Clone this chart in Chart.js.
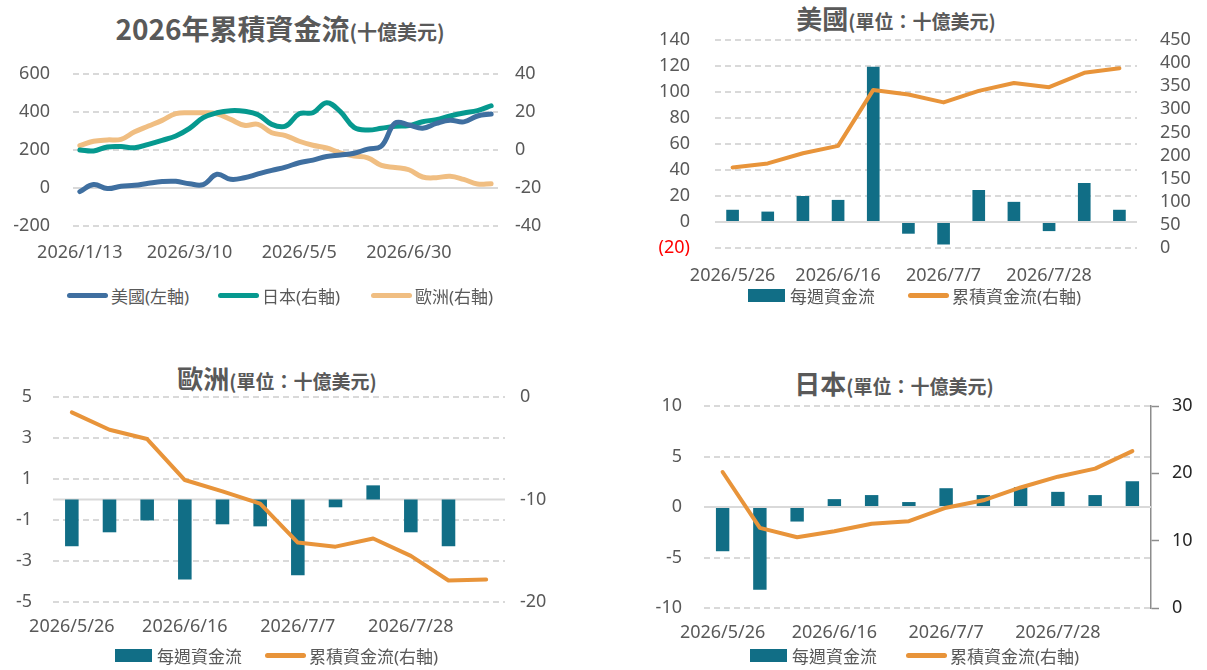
<!DOCTYPE html>
<html>
<head>
<meta charset="utf-8">
<script src="https://cdn.jsdelivr.net/npm/chart.js@4.4.1/dist/chart.umd.min.js"></script>
<style>
  body { margin: 0; background: #fff; }
  #page { position: relative; width: 1207px; height: 670px; overflow: hidden;
          font-family: "Noto Sans", "Noto Sans CJK TC", sans-serif; color: #595959; }
  .box { position: absolute; }
  .title { position: absolute; transform: translateX(-50%); white-space: nowrap;
           font-weight: bold; color: #595959; line-height: 34px; height: 34px;
           font-family: "Noto Sans CJK TC", "Noto Sans", sans-serif; }
  .title .big { font-size: 26px; }
  .title .small { font-size: 19px; }
  .lg { position: absolute; display: flex; align-items: center; font-size: 17px;
        white-space: nowrap; height: 22px; margin-top: -11px; }
  .lg .ln { width: 41px; height: 5px; border-radius: 3px; margin-right: 3px; }
  .lg .bx { width: 37px; height: 13px; margin-right: 5px; }
</style>
</head>
<body>
<div id="page">
  <div class="title" style="left:280px;top:11px;"><span class="big" style="font-size:28px">2026年累積資金流</span><span class="small" style="font-size:20px">(十億美元)</span></div>
  <div class="title" style="left:896px;top:1px;"><span class="big">美國</span><span class="small">(單位：十億美元)</span></div>
  <div class="title" style="left:277px;top:361px;"><span class="big">歐洲</span><span class="small">(單位：十億美元)</span></div>
  <div class="title" style="left:894px;top:366px;"><span class="big">日本</span><span class="small">(單位：十億美元)</span></div>

  <div class="box" style="left:0;top:60px;width:545px;height:205px;"><canvas id="allChart"></canvas></div>
  <div class="box" style="left:640px;top:25px;width:567px;height:265px;"><canvas id="usChart"></canvas></div>
  <div class="box" style="left:0;top:385px;width:560px;height:260px;"><canvas id="euChart"></canvas></div>
  <div class="box" style="left:640px;top:384px;width:567px;height:266px;"><canvas id="jpChart"></canvas></div>

  <div class="lg" style="left:67px;top:295px;"><span class="ln" style="background:#3F6FA0"></span>美國(左軸)</div>
  <div class="lg" style="left:218px;top:295px;"><span class="ln" style="background:#06998F"></span>日本(右軸)</div>
  <div class="lg" style="left:371px;top:295px;"><span class="ln" style="background:#F0BE82"></span>歐洲(右軸)</div>

  <div class="lg" style="left:748px;top:295px;"><span class="bx" style="background:#116E86"></span>每週資金流</div>
  <div class="lg" style="left:908px;top:295px;"><span class="ln" style="background:#E8943A"></span>累積資金流(右軸)</div>

  <div class="lg" style="left:115px;top:655px;"><span class="bx" style="background:#116E86"></span>每週資金流</div>
  <div class="lg" style="left:265px;top:655px;"><span class="ln" style="background:#E8943A"></span>累積資金流(右軸)</div>

  <div class="lg" style="left:750px;top:655px;"><span class="bx" style="background:#116E86"></span>每週資金流</div>
  <div class="lg" style="left:906px;top:655px;"><span class="ln" style="background:#E8943A"></span>累積資金流(右軸)</div>
</div>

<script>
// ---------- 2026 累積資金流 (weekly, 31 weeks) ----------
const allDates = ['2026/1/13','2026/1/20','2026/1/27','2026/2/3','2026/2/10','2026/2/17','2026/2/24',
  '2026/3/3','2026/3/10','2026/3/17','2026/3/24','2026/3/31','2026/4/7','2026/4/14','2026/4/21',
  '2026/4/28','2026/5/5','2026/5/12','2026/5/19','2026/5/26','2026/6/2','2026/6/9','2026/6/16',
  '2026/6/23','2026/6/30','2026/7/7','2026/7/14','2026/7/21','2026/7/28','2026/8/4','2026/8/11'];
const usCumAll = [-19, 18, -3, 9, 14, 25, 34, 35, 22, 18, 72, 46, 54, 74, 93, 110, 133, 147, 166,
  174, 183, 205, 221, 342, 332, 315, 340, 357, 348, 379, 389];
const jpCumAll = [0, -0.5, 1.6, 1.8, 1.2, 3.0, 5.1, 7.4, 11.4, 17.0, 19.6, 20.7, 20.4, 18.6, 13.5,
  12.6, 19.1, 19.6, 24.9, 20.2, 11.9, 10.5, 11.4, 12.5, 12.9, 14.9, 16.0, 17.9, 19.5, 20.7, 23.3];
const euCumAll = [2.3, 4.6, 5.3, 5.6, 9.6, 12.6, 15.6, 19.1, 19.6, 19.6, 19.1, 16.1, 13.0, 13.5, 9.1,
  7.6, 4.6, 2.5, 1.1, -1.5, -3.2, -4.1, -8.1, -9.2, -10.4, -14.2, -14.6, -13.8, -15.5, -17.9, -17.8];

// ---------- 最近 12 週 ----------
const weekDates = ['2026/5/26','2026/6/2','2026/6/9','2026/6/16','2026/6/23','2026/6/30',
  '2026/7/7','2026/7/14','2026/7/21','2026/7/28','2026/8/4','2026/8/11'];
const usWeekly = [9.4, 8, 20, 17, 119.5, -9, -17.3, 24.6, 15.5, -7, 30, 9.4];
const usCum    = [174, 183, 205, 221, 342, 332, 315, 340, 357, 348, 379, 389];
const euWeekly = [-2.28, -1.6, -1.02, -3.9, -1.21, -1.31, -3.7, -0.38, 0.69, -1.6, -2.28, 0];
const euCum    = [-1.5, -3.2, -4.1, -8.1, -9.2, -10.4, -14.2, -14.6, -13.8, -15.5, -17.9, -17.8];
const jpWeekly = [-4.38, -8.2, -1.44, 0.78, 1.18, 0.49, 1.86, 1.18, 1.96, 1.5, 1.18, 2.55];
const jpCum    = [20.2, 11.9, 10.5, 11.4, 12.5, 12.9, 14.9, 16.0, 17.9, 19.5, 20.7, 23.3];

Chart.defaults.font.family = '"Noto Sans", "Noto Sans CJK TC", sans-serif';
Chart.defaults.font.size = 18;
Chart.defaults.color = '#595959';

const GRID = '#D9D9D9';
const BAR = '#116E86';
const CUM = '#E8943A';
const NONE = 'rgba(0,0,0,0)';
const TICK_FONT = { size: 18, lineHeight: 1 };

// 0 的格線畫成實線
const zeroLine = {
  id: 'zeroLine',
  beforeDatasetsDraw(chart) {
    const px = chart.scales.y.getPixelForValue(0);
    const { left, right } = chart.chartArea;
    const c = chart.ctx;
    c.save();
    c.strokeStyle = GRID;
    c.lineWidth = 2;
    c.beginPath();
    c.moveTo(left, px);
    c.lineTo(right, px);
    c.stroke();
    c.restore();
  }
};

const gridColor = ctx => (ctx.tick && ctx.tick.value === 0) ? NONE : GRID;

function xAxis(labels, every, height, pad, offset) {
  return {
    offset: offset,
    grid: { display: false },
    border: { display: false },
    ticks: {
      autoSkip: false, maxRotation: 0, padding: pad,
      callback: (v, i) => i % every === 0 ? labels[i] : ''
    },
    afterFit: s => { s.height = height; }
  };
}

// label gap done with invisible tick marks (ticks.padding would push the plot top down)
function leftAxis(min, max, step, gap, width, extraTicks) {
  return {
    position: 'left', min: min, max: max,
    ticks: Object.assign({ stepSize: step, padding: 0, font: TICK_FONT }, extraTicks || {}),
    grid: { color: gridColor, lineWidth: 2, drawTicks: true, tickLength: gap, tickColor: NONE },
    border: { display: false, dash: [6, 4] },
    afterFit: s => { s.width = width; }
  };
}

function rightAxis(min, max, step, gap, width) {
  return {
    position: 'right', min: min, max: max,
    ticks: { stepSize: step, padding: 0, font: TICK_FONT },
    grid: { drawOnChartArea: false, drawTicks: true, tickLength: gap, tickColor: NONE },
    border: { display: false },
    afterFit: s => { s.width = width; }
  };
}

// ---------- 左上: 累積資金流 ----------
new Chart(document.getElementById('allChart'), {
  type: 'line',
  data: {
    labels: allDates,
    datasets: [
      { label: '美國(左軸)', data: usCumAll, yAxisID: 'y', borderColor: '#3F6FA0' },
      { label: '日本(右軸)', data: jpCumAll, yAxisID: 'y1', borderColor: '#06998F' },
      { label: '歐洲(右軸)', data: euCumAll, yAxisID: 'y1', borderColor: '#F0BE82' }
    ]
  },
  options: {
    responsive: true,
    maintainAspectRatio: false,
    animation: false,
    layout: { padding: { top: 14 } },
    elements: {
      line: { borderWidth: 5, tension: 0.4, borderCapStyle: 'round', borderJoinStyle: 'round' },
      point: { radius: 0 }
    },
    plugins: { legend: { display: false }, tooltip: { enabled: false } },
    scales: {
      x: xAxis(allDates, 8, 39, 8, true),
      y: leftAxis(-200, 600, 200, 23, 73),
      y1: rightAxis(-40, 40, 20, 17, 47)
    }
  },
  plugins: [zeroLine]
});

// ---------- 每週 + 累積 組合圖 ----------
function comboChart(id, weekly, cum, o) {
  return new Chart(document.getElementById(id), {
    type: 'bar',
    data: {
      labels: weekDates,
      datasets: [
        {
          type: 'line', label: '累積資金流(右軸)', data: cum, yAxisID: 'y1', order: 0,
          borderColor: CUM, borderWidth: 4, pointRadius: 0, tension: 0,
          borderCapStyle: 'round', borderJoinStyle: 'round'
        },
        {
          type: 'bar', label: '每週資金流', data: weekly, yAxisID: 'y', order: 1,
          backgroundColor: BAR, barPercentage: 0.36, categoryPercentage: 1
        }
      ]
    },
    options: {
      responsive: true,
      maintainAspectRatio: false,
      animation: false,
      layout: { padding: { top: o.top } },
      plugins: { legend: { display: false }, tooltip: { enabled: false } },
      scales: {
        x: xAxis(weekDates, 3, o.xH, o.xPad, true),
        y: o.left,
        y1: o.right
      }
    },
    plugins: [zeroLine]
  });
}

// 美國
comboChart('usChart', usWeekly, usCum, {
  top: 15, xH: 42, xPad: 9,
  left: leftAxis(-20, 140, 20, 25, 75, {
    callback: v => v < 0 ? '(' + (-v) + ')' : v,
    color: ctx => ctx.tick.value < 0 ? '#FF0000' : '#595959'
  }),
  right: rightAxis(0, 450, 50, 23, 70)
});

// 歐洲
comboChart('euChart', euWeekly, euCum, {
  top: 12, xH: 43, xPad: 6,
  left: leftAxis(-5, 5, 2, 21, 53),
  right: rightAxis(-20, 0, 10, 15, 55)
});

// 日本 (右軸有軸線與刻度)
comboChart('jpChart', jpWeekly, jpCum, {
  top: 0, xH: 42, xPad: 6,
  left: leftAxis(-10, 10, 5, 22, 64),
  right: {
    position: 'right', min: 0, max: 30,
    ticks: { stepSize: 10, padding: 13, color: '#262626', font: TICK_FONT },
    grid: { drawOnChartArea: false, drawTicks: true, tickLength: 8,
            tickColor: '#8C8C8C', tickWidth: 1.5 },
    border: { display: true, color: '#8C8C8C', width: 1.5 },
    afterFit: s => { s.width = 56; }
  }
});
</script>
</body>
</html>
